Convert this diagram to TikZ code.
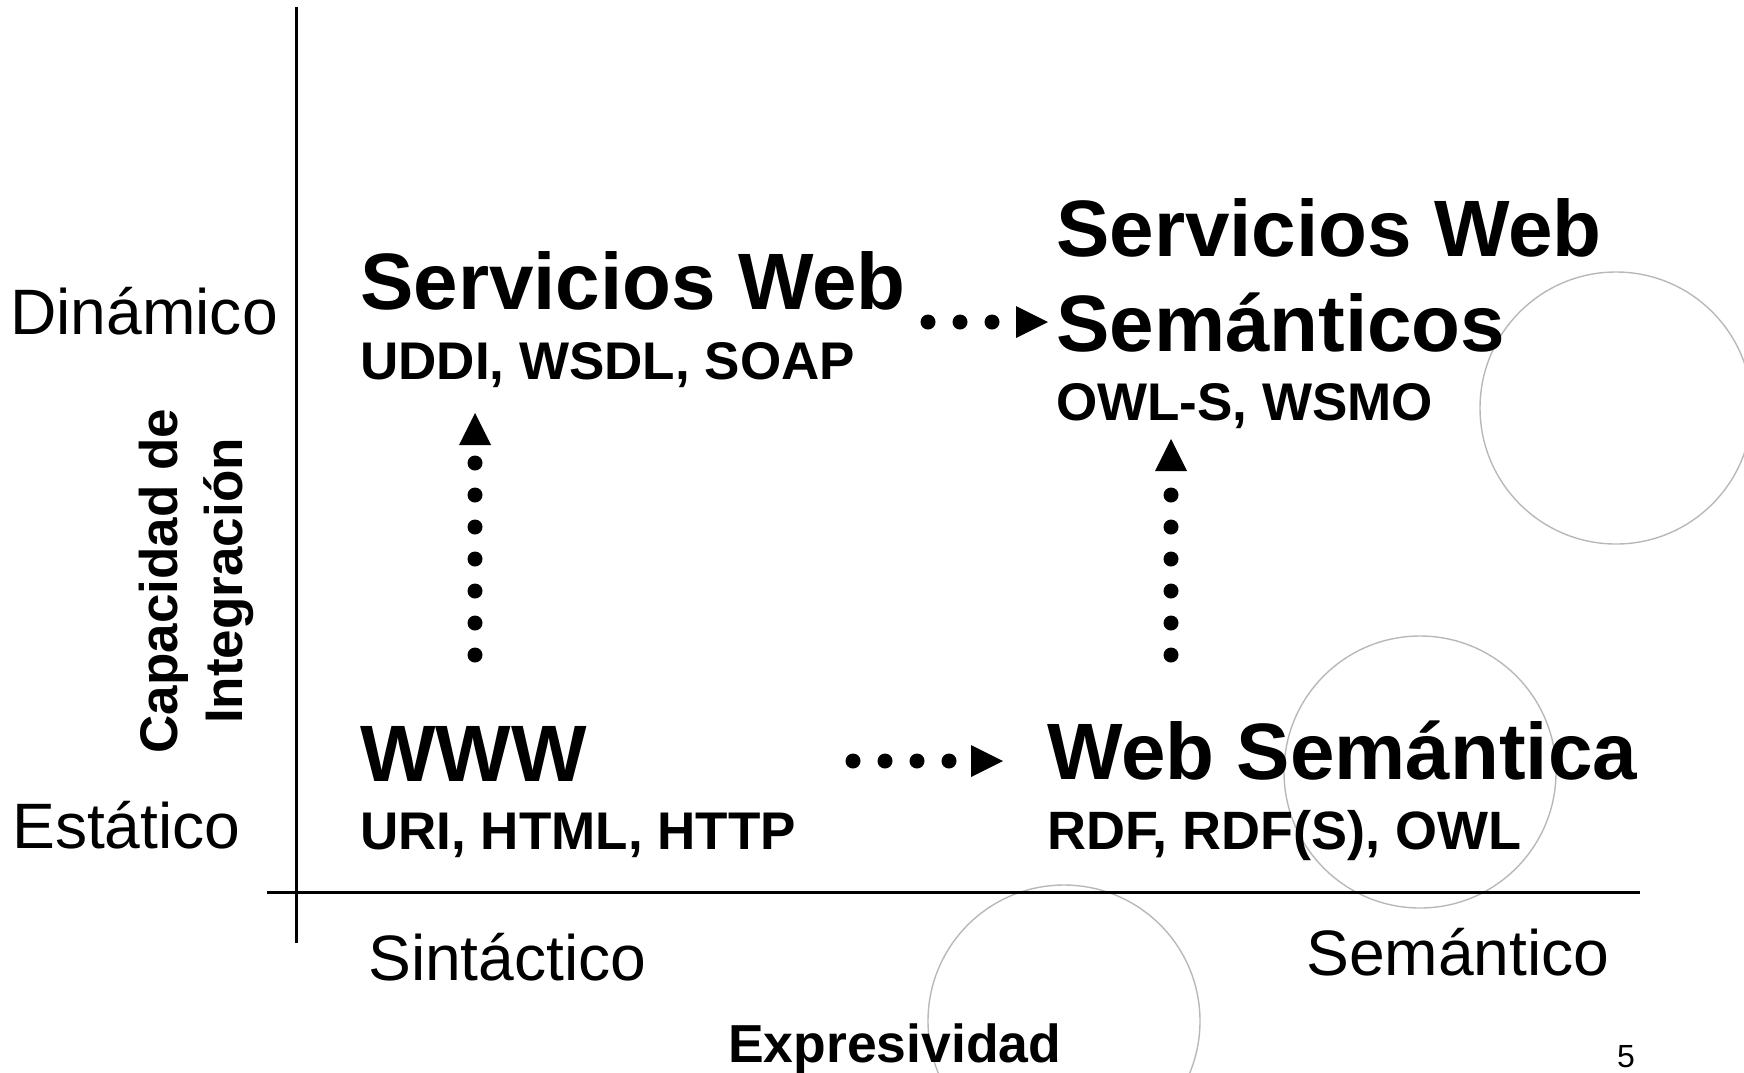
\documentclass[tikz,border=0pt]{standalone}
\usepackage{fontspec}
\setmainfont{Liberation Sans}
\usetikzlibrary{arrows.meta}
\begin{document}
\begin{tikzpicture}[x=1pt,y=-1pt,
  big/.style={font=\fontsize{80}{96}\selectfont\bfseries, anchor=base west, inner sep=0pt},
  small/.style={font=\fontsize{53}{64}\selectfont\bfseries, anchor=base west, inner sep=0pt},
  axlabel/.style={font=\fontsize{64.2}{77}\selectfont, anchor=base west, inner sep=0pt},
  axis/.style={line width=3pt, black},
  deco/.style={draw=black!28, line width=1.4pt},
  dotarrow/.style={line width=15pt, line cap=round, dash pattern=on 0pt off 32pt,
    -{Triangle[length=32pt,width=32pt,line width=0pt]}}
]
\clip (0,0) rectangle (1744,1072);
\useasboundingbox (0,0) rectangle (1744,1072);
% background circles
\draw[deco] (1616,408) circle[radius=136];
\draw[deco] (1420,772) circle[radius=136];
\draw[deco] (1064,1021) circle[radius=136];
% axes
\coordinate (vtop) at (296,7);
\coordinate (vbot) at (296,943);
\coordinate (hleft) at (267,892);
\coordinate (hright) at (1640,892);
\draw[axis] (vtop) -- (vbot);
\draw[axis] (hleft) -- (hright);
% axis labels
\node[axlabel] (din) at (10,334) {Dinámico};
\node[axlabel] (est) at (12,848) {Estático};
\node[axlabel] (sin) at (368,980) {Sintáctico};
\node[axlabel] (sem) at (1306,975) {Semántico};
\node[font=\fontsize{53.5}{64}\selectfont\bfseries, anchor=base west, inner sep=0pt] (expr) at (728,1062) {Expresividad};
\node[font=\fontsize{53}{65}\selectfont\bfseries, align=center, rotate=90, inner sep=0pt] (cap) at (196,581) {Capacidad de\\Integración};
\node[font=\fontsize{32}{38}\selectfont, anchor=base west, inner sep=0pt] (pg) at (1617,1067) {5};
% quadrant texts
\node[big] (sw) at (360,309) {Servicios Web};
\node[small] (swp) at (360,379) {UDDI, WSDL, SOAP};
\node[big] (sws) at (1056,256) {Servicios Web};
\node[big] (sws2) at (1056,351) {Semánticos};
\node[small] (swsp) at (1056,420) {OWL-S, WSMO};
\node[big] (www) at (360,781) {WWW};
\node[small] (wwwp) at (360,849) {URI, HTML, HTTP};
\node[big] (ws) at (1047,779) {Web Semántica};
\node[small, font=\fontsize{54}{65}\selectfont\bfseries] (wsp) at (1047,849) {RDF, RDF(S), OWL};
% dotted arrows
\coordinate (a1s) at (928,322);  \coordinate (a1e) at (1048,322);
\coordinate (a2s) at (853,761);  \coordinate (a2e) at (1003,761);
\coordinate (a3s) at (475,655);  \coordinate (a3e) at (475,413);
\coordinate (a4s) at (1171,655); \coordinate (a4e) at (1171,439);
\draw[dotarrow] (a1s) -- (a1e);
\draw[dotarrow] (a2s) -- (a2e);
\draw[dotarrow] (a3s) -- (a3e);
\draw[dotarrow] (a4s) -- (a4e);
\end{tikzpicture}
\end{document}
